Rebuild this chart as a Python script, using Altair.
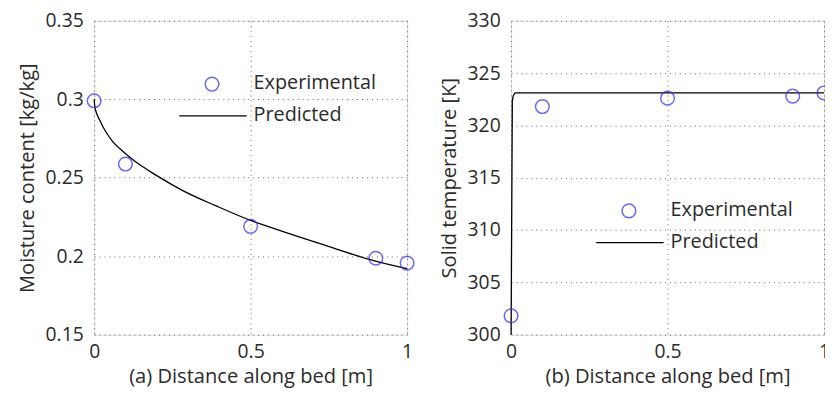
import altair as alt
import pandas as pd

# ---- data ----
exp_pos = [0, 0.1, 0.5, 0.9, 1.0]
moist_exp = [0.299, 0.2587, 0.2190, 0.1987, 0.1956]
temp_exp = [301.8, 321.8, 322.6, 322.8, 323.1]

moist_x = [0, 0.002, 0.005, 0.01, 0.018, 0.028, 0.044, 0.06, 0.086, 0.108, 0.139,
           0.177, 0.2, 0.283, 0.388, 0.5, 0.557, 0.662, 0.768, 0.873, 1.0]
moist_pred = [0.300, 0.2955, 0.2928, 0.2898, 0.2866, 0.2825, 0.2772, 0.2728, 0.2678, 0.2640, 0.2592,
              0.2542, 0.2513, 0.2418, 0.2322, 0.2228, 0.2188, 0.2118, 0.2050, 0.1983, 0.1920]

temp_x = [0, 0.004, 0.008, 0.015, 1.0]
temp_pred = [300.0, 322.3, 322.9, 323.1, 323.1]

x_ticks = [0, 0.5, 1]
moist_ticks = [0.15, 0.2, 0.25, 0.3, 0.35]
temp_ticks = [300, 305, 310, 315, 320, 325, 330]

legend_labels = ["Experimental", "Predicted"]

FONT = "Open Sans"
TXT = "#2b2b2b"
W, H = 316, 317


def axis(title, values, pad_label, pad_title):
    return alt.Axis(values=values, format="~g", grid=True, gridDash=[1, 4],
                    gridColor="#666", gridWidth=1, ticks=False, domain=False,
                    labelFlush=False, labelOverlap=False,
                    labelFont=FONT, labelFontSize=19.5, labelColor=TXT, labelPadding=pad_label,
                    title=title, titleFont=FONT, titleFontSize=20.3, titleFontWeight="normal",
                    titleColor=TXT, titlePadding=pad_title)


def panel(xlabel, ylabel, y_dom, y_ticks, exp_vals, px, py, leg_y):
    exp_df = pd.DataFrame({"x": exp_pos, "y": exp_vals})
    pred_df = pd.DataFrame({"x": px, "y": py})
    xs = alt.Scale(domain=[0, 1], nice=False, zero=False)
    ys = alt.Scale(domain=y_dom, nice=False, zero=False)
    xenc = alt.X("x:Q", scale=xs, axis=axis(xlabel, x_ticks, 8, 6))
    yenc = alt.Y("y:Q", scale=ys, axis=axis(ylabel, y_ticks, 11, 8))

    line = alt.Chart(pred_df).mark_line(color="black", strokeWidth=1.3,
                                        interpolate="monotone").encode(x=xenc, y=yenc)
    pts = alt.Chart(exp_df).mark_point(shape="circle", size=190, color="#2a2aff",
                                       strokeWidth=1.5, filled=False).encode(x=xenc, y=yenc)

    leg_df = pd.DataFrame({"label": legend_labels})
    exp_leg = alt.Chart(leg_df).transform_filter(alt.datum.label == "Experimental")
    pred_leg = alt.Chart(leg_df).transform_filter(alt.datum.label == "Predicted")
    leg_pt = exp_leg.mark_point(
        shape="circle", size=190, color="#2a2aff", strokeWidth=1.5, filled=False
    ).encode(x=alt.value(119), y=alt.value(leg_y))
    leg_line = pred_leg.mark_rule(color="black", strokeWidth=1.3).encode(
        x=alt.value(86), x2=alt.value(154), y=alt.value(leg_y + 32))
    txt_kw = dict(align="left", baseline="middle", font=FONT, fontSize=20, color=TXT)
    leg_t1 = exp_leg.mark_text(**txt_kw).encode(x=alt.value(161), y=alt.value(leg_y - 1), text="label:N")
    leg_t2 = pred_leg.mark_text(**txt_kw).encode(x=alt.value(161), y=alt.value(leg_y + 31), text="label:N")

    return alt.layer(line, pts, leg_pt, leg_line, leg_t1, leg_t2).properties(width=W, height=H)


left = panel("(a) Distance along bed [m]", "Moisture content [kg/kg]", [0.15, 0.35],
             moist_ticks, moist_exp, moist_x, moist_pred, 64)
right = panel("(b) Distance along bed [m]", "Solid temperature [K]", [300, 330],
              temp_ticks, temp_exp, temp_x, temp_pred, 192)

chart = alt.hconcat(left, right, spacing=21).properties(
    padding={"left": 8, "top": 0, "right": -10, "bottom": 0}
).configure_view(stroke="#444", strokeWidth=1.3).configure(background="white")

chart.save("out.html", embed_options={"renderer": "svg", "actions": False})
